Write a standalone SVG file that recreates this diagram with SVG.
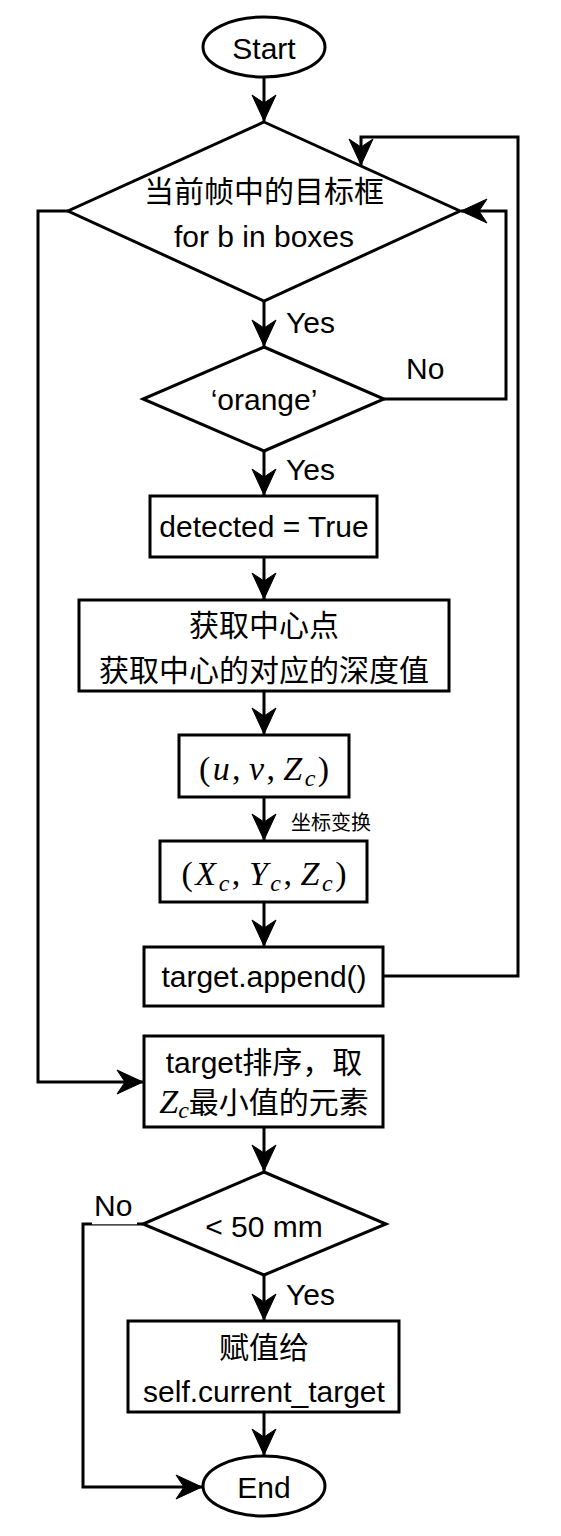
<svg xmlns="http://www.w3.org/2000/svg" width="561" height="1536" viewBox="0 0 561 1536">
<defs>
<style>
.shape{fill:#fff;stroke:#000;stroke-width:3}
.conn{fill:none;stroke:#000;stroke-width:3;marker-end:url(#arr)}
text{font-family:"Liberation Sans","Noto Sans CJK SC",sans-serif;font-size:30px;fill:#000}
.c{text-anchor:middle}
.math{font-family:"Liberation Serif","DejaVu Serif",serif;font-size:34px}
.it{font-style:italic}
.sub{font-family:"Liberation Serif","DejaVu Serif",serif;font-style:italic;font-size:24px}
.small{font-size:20px}
</style>
<marker id="arr" markerUnits="userSpaceOnUse" viewBox="-27 -13 28 26" refX="0" refY="0" markerWidth="28" markerHeight="26" orient="auto" overflow="visible">
<path d="M0,0 L-26,-12 L-18,0 L-26,12 Z" fill="#000" stroke="#000" stroke-width="1"/>
</marker>
</defs>
<rect width="561" height="1536" fill="#fff"/>

<g id="connectors">
<path class="conn" d="M264,77 V121"/>
<path class="conn" d="M264,301 V346"/>
<path class="conn" d="M384,399 H506 V211 H461"/>
<path class="conn" d="M264,451 V495"/>
<path class="conn" d="M264,557 V599"/>
<path class="conn" d="M264,691 V734"/>
<path class="conn" d="M264,797 V840"/>
<path class="conn" d="M264,902 V946"/>
<path class="conn" d="M383,976 H518 V137 H361 V165"/>
<path class="conn" d="M68,211 H38 V1082 H143"/>
<path class="conn" d="M264,1127 V1171"/>
<path class="conn" d="M264,1275 V1320"/>
<path class="conn" d="M143,1224 H83 V1487 H202"/>
<path class="conn" d="M264,1412 V1455"/>
</g>

<g id="labels">
<text x="286" y="333">Yes</text>
<text x="286" y="480">Yes</text>
<text x="286" y="1305">Yes</text>
<text x="406" y="379">No</text>
<rect x="92" y="1190" width="45" height="34.3" fill="#fff"/>
<text x="94" y="1216">No</text>
<text x="291" y="830" class="small">坐标变换</text>
</g>

<g id="start">
<ellipse class="shape" cx="264" cy="47" rx="61" ry="30"/>
<text class="c" x="264" y="59">Start</text>
</g>

<g id="loop">
<polygon class="shape" points="264,122 460,211 264,301 68,211"/>
<text class="c" x="264" y="202">当前帧中的目标框</text>
<text class="c" x="264" y="247">for b in boxes</text>
</g>

<g id="orange">
<polygon class="shape" points="264,347 384,399 264,451 143,399"/>
<text class="c" x="264" y="410">‘orange’</text>
</g>

<g id="detected">
<rect class="shape" x="150" y="496" width="227" height="61"/>
<text class="c" x="264" y="537">detected = True</text>
</g>

<g id="center">
<rect class="shape" x="79" y="600" width="370" height="91"/>
<text class="c" x="264" y="636">获取中心点</text>
<text class="c" x="264" y="681">获取中心的对应的深度值</text>
</g>

<g id="uvz">
<rect class="shape" x="179" y="735" width="170" height="62"/>
<text class="c math" x="264" y="780" textLength="130" lengthAdjust="spacing">(<tspan class="it">u</tspan>,<tspan class="it" dx="6">v</tspan>,<tspan class="it" dx="6">Z</tspan><tspan class="sub" dy="6">c</tspan><tspan dy="-6">)</tspan></text>
</g>

<g id="xyz">
<rect class="shape" x="160" y="841" width="207" height="61"/>
<text class="c math" x="264" y="885" textLength="165" lengthAdjust="spacing">(<tspan class="it">X</tspan><tspan class="sub" dy="6">c</tspan><tspan dy="-6">,</tspan><tspan class="it" dx="6">Y</tspan><tspan class="sub" dy="6">c</tspan><tspan dy="-6">,</tspan><tspan class="it" dx="6">Z</tspan><tspan class="sub" dy="6">c</tspan><tspan dy="-6">)</tspan></text>
</g>

<g id="append">
<rect class="shape" x="144" y="947" width="239" height="59"/>
<text class="c" x="264" y="987">target.append()</text>
</g>

<g id="sort">
<rect class="shape" x="144" y="1036" width="239" height="91"/>
<text class="c" x="264" y="1073">target排序，取</text>
<text class="c" x="264" y="1113"><tspan class="math it">Z</tspan><tspan class="sub" dy="5">c</tspan><tspan dy="-5">最小值的元素</tspan></text>
</g>

<g id="dist">
<polygon class="shape" points="264,1172 386,1224 264,1275 143,1224"/>
<text class="c" x="264" y="1237">&lt; 50 mm</text>
</g>

<g id="assign">
<rect class="shape" x="128" y="1321" width="271" height="91"/>
<text class="c" x="264" y="1358">赋值给</text>
<text class="c" x="264" y="1402">self.current_target</text>
</g>

<g id="end">
<ellipse class="shape" cx="264" cy="1486" rx="61" ry="30"/>
<text class="c" x="264" y="1498">End</text>
</g>
</svg>
